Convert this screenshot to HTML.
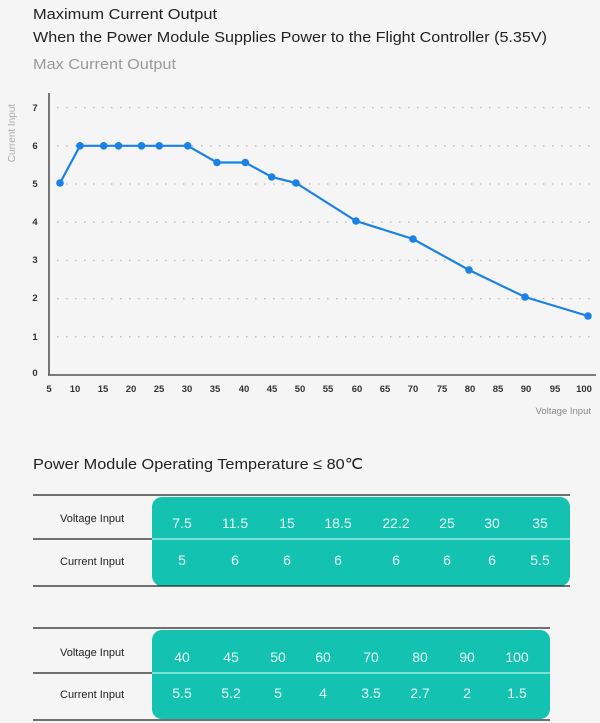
<!DOCTYPE html>
<html><head><meta charset="utf-8"><style>
html,body{margin:0;padding:0;background:#f5f5f5;}
svg{display:block;font-family:"Liberation Sans",sans-serif;}
</style></head><body>
<svg width="600" height="723" viewBox="0 0 600 723">
<rect width="600" height="723" fill="#f5f5f5"/>
<text x="33" y="19" font-size="15" fill="#222" textLength="184" lengthAdjust="spacingAndGlyphs">Maximum Current Output</text>
<text x="33" y="42" font-size="15" fill="#222" textLength="514" lengthAdjust="spacingAndGlyphs">When the Power Module Supplies Power to the Flight Controller (5.35V)</text>
<text x="33" y="69" font-size="15" fill="#9a9a9a" textLength="143" lengthAdjust="spacingAndGlyphs">Max Current Output</text>
<text transform="translate(15,133) rotate(-90)" font-size="10" fill="#aaa" text-anchor="middle">Current Input</text>
<g stroke="#bbb" stroke-width="1.3" stroke-dasharray="1.5,7.5">
<line x1="57" x2="592" y1="107.6" y2="107.6"/>
<line x1="57" x2="592" y1="145.8" y2="145.8"/>
<line x1="57" x2="592" y1="184" y2="184"/>
<line x1="57" x2="592" y1="222.2" y2="222.2"/>
<line x1="57" x2="592" y1="260.4" y2="260.4"/>
<line x1="57" x2="592" y1="298.6" y2="298.6"/>
<line x1="57" x2="592" y1="336.8" y2="336.8"/>
</g>
<g stroke="#555" stroke-width="1.6"><line x1="49" y1="93" x2="49" y2="375"/><line x1="48" y1="375" x2="596" y2="375"/></g>
<g font-size="9.5" font-weight="bold" fill="#333" text-anchor="middle">
<text x="35" y="111">7</text><text x="35" y="149">6</text><text x="35" y="187">5</text><text x="35" y="225">4</text><text x="35" y="263">3</text><text x="35" y="301">2</text><text x="35" y="340">1</text><text x="35" y="376">0</text>
<text x="49" y="392">5</text><text x="75" y="392">10</text><text x="103" y="392">15</text><text x="131" y="392">20</text><text x="159" y="392">25</text><text x="187" y="392">30</text><text x="215" y="392">35</text><text x="244" y="392">40</text><text x="272" y="392">45</text><text x="300" y="392">50</text><text x="328" y="392">55</text><text x="357" y="392">60</text><text x="385" y="392">65</text><text x="413" y="392">70</text><text x="442" y="392">75</text><text x="470" y="392">80</text><text x="498" y="392">85</text><text x="526" y="392">90</text><text x="555" y="392">95</text><text x="584" y="392">100</text>
</g>
<text x="591" y="414" font-size="9.5" fill="#888" text-anchor="end">Voltage Input</text>
<polyline fill="none" stroke="#1a82e6" stroke-width="2.2" points="60,183 80,145.8 103.7,145.8 118.5,145.8 141.5,145.8 159.3,145.8 187.7,145.8 217,162.5 245.3,162.5 271.7,177 296,183 356,221 413,239 469,270 525,297 588,316"/>
<g fill="#1a82e6">
<circle cx="60" cy="183" r="3.8"/><circle cx="80" cy="145.8" r="3.8"/><circle cx="103.7" cy="145.8" r="3.8"/><circle cx="118.5" cy="145.8" r="3.8"/><circle cx="141.5" cy="145.8" r="3.8"/><circle cx="159.3" cy="145.8" r="3.8"/><circle cx="187.7" cy="145.8" r="3.8"/><circle cx="217" cy="162.5" r="3.8"/><circle cx="245.3" cy="162.5" r="3.8"/><circle cx="271.7" cy="177" r="3.8"/><circle cx="296" cy="183" r="3.8"/><circle cx="356" cy="221" r="3.8"/><circle cx="413" cy="239" r="3.8"/><circle cx="469" cy="270" r="3.8"/><circle cx="525" cy="297" r="3.8"/><circle cx="588" cy="316" r="3.8"/>
</g>
<text x="33" y="469" font-size="15" fill="#222" textLength="330" lengthAdjust="spacingAndGlyphs">Power Module Operating Temperature ≤ 80℃</text>
<!-- table 1 -->
<rect x="152" y="497" width="418" height="89" rx="10" fill="#13c2b0"/>
<line x1="33" y1="495" x2="570" y2="495" stroke="#222" stroke-width="1.3"/>
<line x1="33" y1="539" x2="152" y2="539" stroke="#222" stroke-width="1.3"/>
<line x1="152" y1="539" x2="570" y2="539" stroke="#bdf3ec" stroke-width="1.3"/>
<line x1="33" y1="586" x2="570" y2="586" stroke="#222" stroke-width="1.3"/>
<g font-size="11" fill="#222"><text x="60" y="522">Voltage Input</text><text x="60" y="565">Current Input</text></g>
<g font-size="14" fill="#e8fffb" text-anchor="middle">
<text x="182" y="528">7.5</text><text x="235" y="528">11.5</text><text x="287" y="528">15</text><text x="338" y="528">18.5</text><text x="396" y="528">22.2</text><text x="447" y="528">25</text><text x="492" y="528">30</text><text x="540" y="528">35</text>
<text x="182" y="565">5</text><text x="235" y="565">6</text><text x="287" y="565">6</text><text x="338" y="565">6</text><text x="396" y="565">6</text><text x="447" y="565">6</text><text x="492" y="565">6</text><text x="540" y="565">5.5</text>
</g>
<!-- table 2 -->
<rect x="152" y="630" width="398" height="89" rx="10" fill="#13c2b0"/>
<line x1="33" y1="628" x2="550" y2="628" stroke="#222" stroke-width="1.3"/>
<line x1="33" y1="673" x2="152" y2="673" stroke="#222" stroke-width="1.3"/>
<line x1="152" y1="673" x2="550" y2="673" stroke="#bdf3ec" stroke-width="1.3"/>
<line x1="33" y1="720" x2="550" y2="720" stroke="#222" stroke-width="1.3"/>
<g font-size="11" fill="#222"><text x="60" y="656">Voltage Input</text><text x="60" y="698">Current Input</text></g>
<g font-size="14" fill="#e8fffb" text-anchor="middle">
<text x="182" y="662">40</text><text x="231" y="662">45</text><text x="278" y="662">50</text><text x="323" y="662">60</text><text x="371" y="662">70</text><text x="420" y="662">80</text><text x="467" y="662">90</text><text x="517" y="662">100</text>
<text x="182" y="698">5.5</text><text x="231" y="698">5.2</text><text x="278" y="698">5</text><text x="323" y="698">4</text><text x="371" y="698">3.5</text><text x="420" y="698">2.7</text><text x="467" y="698">2</text><text x="517" y="698">1.5</text>
</g>
</svg>
</body></html>
